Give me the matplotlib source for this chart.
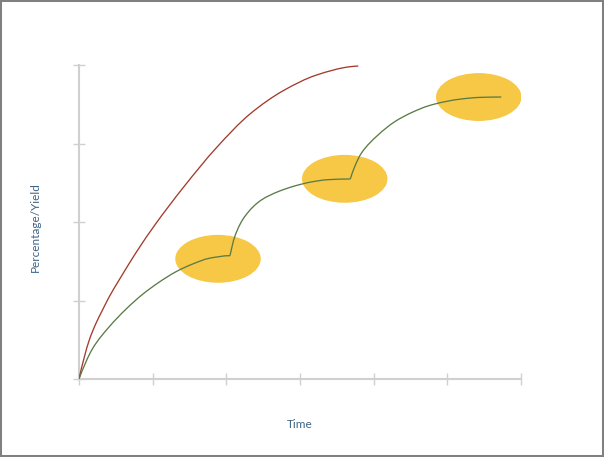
"""
Percentage/Yield over time: one continuous curve vs. staged curve
"""
import matplotlib
matplotlib.use("Agg")
import matplotlib.pyplot as plt
from matplotlib.patches import Ellipse, Rectangle, PathPatch
from matplotlib.path import Path

plt.rcParams['font.family'] = ['Lato', 'DejaVu Sans']

# red curve
red_x = [0.000, 0.140, 0.231, 0.322, 0.411, 0.547, 0.683, 0.797, 1.032,
         1.416, 1.869, 2.321, 2.773, 3.227, 3.679, 3.791]
red_y = [0.000, 0.497, 0.710, 0.884, 1.048, 1.265, 1.474, 1.643, 1.965,
         2.440, 2.950, 3.376, 3.673, 3.873, 3.978, 3.987]

# green curve, three stages (each starts where the last one ends)
stage1_x = [0.000, 0.186, 0.411, 0.638, 0.865, 1.090, 1.317, 1.543, 1.769, 2.050]
stage1_y = [0.000, 0.390, 0.666, 0.890, 1.080, 1.235, 1.367, 1.465, 1.538, 1.571]
stage2_x = [2.050, 2.114, 2.249, 2.475, 2.701, 2.928, 3.153, 3.380, 3.683]
stage2_y = [1.571, 1.813, 2.068, 2.280, 2.386, 2.459, 2.510, 2.539, 2.548]
stage3_x = [3.683, 3.742, 3.832, 4.059, 4.285, 4.511, 4.737, 4.964, 5.189, 5.461, 5.732]
stage3_y = [2.548, 2.704, 2.875, 3.108, 3.277, 3.392, 3.478, 3.532, 3.567, 3.588, 3.592]

# highlighted stage ends
blob_x = [1.887, 3.607, 5.426]
blob_y = [1.531, 2.550, 3.592]

x_ticks = [0, 1, 2, 3, 4, 5, 6]
y_ticks = [0, 1, 2, 3, 4]

GRAY = '#d0d0d0'
TEXT = '#3f6384'


def smooth_path(xs, ys):
    """monotone cubic (Fritsch-Carlson) through the points, as a bezier path"""
    n = len(xs)
    h = [xs[i + 1] - xs[i] for i in range(n - 1)]
    d = [(ys[i + 1] - ys[i]) / h[i] for i in range(n - 1)]
    m = [0.0] * n
    for i in range(1, n - 1):
        if d[i - 1] * d[i] > 0:
            w1 = 2 * h[i] + h[i - 1]
            w2 = h[i] + 2 * h[i - 1]
            m[i] = (w1 + w2) / (w1 / d[i - 1] + w2 / d[i])

    def end_slope(h0, h1, d0, d1):
        s = ((2 * h0 + h1) * d0 - h0 * d1) / (h0 + h1)
        if s * d0 <= 0:
            return 0.0
        if d0 * d1 <= 0 and abs(s) > abs(3 * d0):
            return 3 * d0
        return s

    m[0] = end_slope(h[0], h[1], d[0], d[1])
    m[-1] = end_slope(h[-1], h[-2], d[-1], d[-2])

    verts = [(xs[0], ys[0])]
    codes = [Path.MOVETO]
    for i in range(n - 1):
        verts += [(xs[i] + h[i] / 3, ys[i] + m[i] * h[i] / 3),
                  (xs[i + 1] - h[i] / 3, ys[i + 1] - m[i + 1] * h[i] / 3),
                  (xs[i + 1], ys[i + 1])]
        codes += [Path.CURVE4] * 3
    return Path(verts, codes)


fig = plt.figure(figsize=(6.04, 4.57), dpi=100)
ax = fig.add_axes([79 / 604, 1 - 379 / 457, 442 / 604, 314 / 457])

for cx, cy in zip(blob_x, blob_y):
    ax.add_patch(Ellipse((cx, cy), 1.16, 0.61, facecolor='#f7c846',
                         edgecolor='none', zorder=1))

ax.add_patch(PathPatch(smooth_path(red_x, red_y), facecolor='none',
                       edgecolor='#a33b2d', linewidth=0.95, zorder=3))
for sx, sy in [(stage1_x, stage1_y), (stage2_x, stage2_y), (stage3_x, stage3_y)]:
    ax.add_patch(PathPatch(smooth_path(sx, sy), facecolor='none',
                           edgecolor='#5b7b46', linewidth=0.95, zorder=3))

ax.set_xlim(0, 6)
ax.set_ylim(0, 4)
ax.set_xticks(x_ticks)
ax.set_yticks(y_ticks)
ax.set_xticklabels([])
ax.set_yticklabels([])
ax.tick_params(direction='inout', length=8.6, width=1.0, color=GRAY)

for side in ['top', 'right']:
    ax.spines[side].set_visible(False)
for side in ['left', 'bottom']:
    ax.spines[side].set_color(GRAY)
    ax.spines[side].set_linewidth(1.5)

ax.set_xlabel('Time', color=TEXT, fontsize=8.5, va='center')
ax.set_ylabel('Percentage/Yield', color=TEXT, fontsize=8.5, va='center')
ax.xaxis.set_label_coords(0.5, (379 - 424) / 314)
ax.yaxis.set_label_coords((35 - 79) / 442, (379 - 227) / 314)

# frame round the figure
fig.add_artist(Rectangle((0, 0), 1, 1, transform=fig.transFigure, fill=False,
                         edgecolor='#808080', linewidth=2.9, clip_on=False))

fig.savefig('out.png', dpi=100)
